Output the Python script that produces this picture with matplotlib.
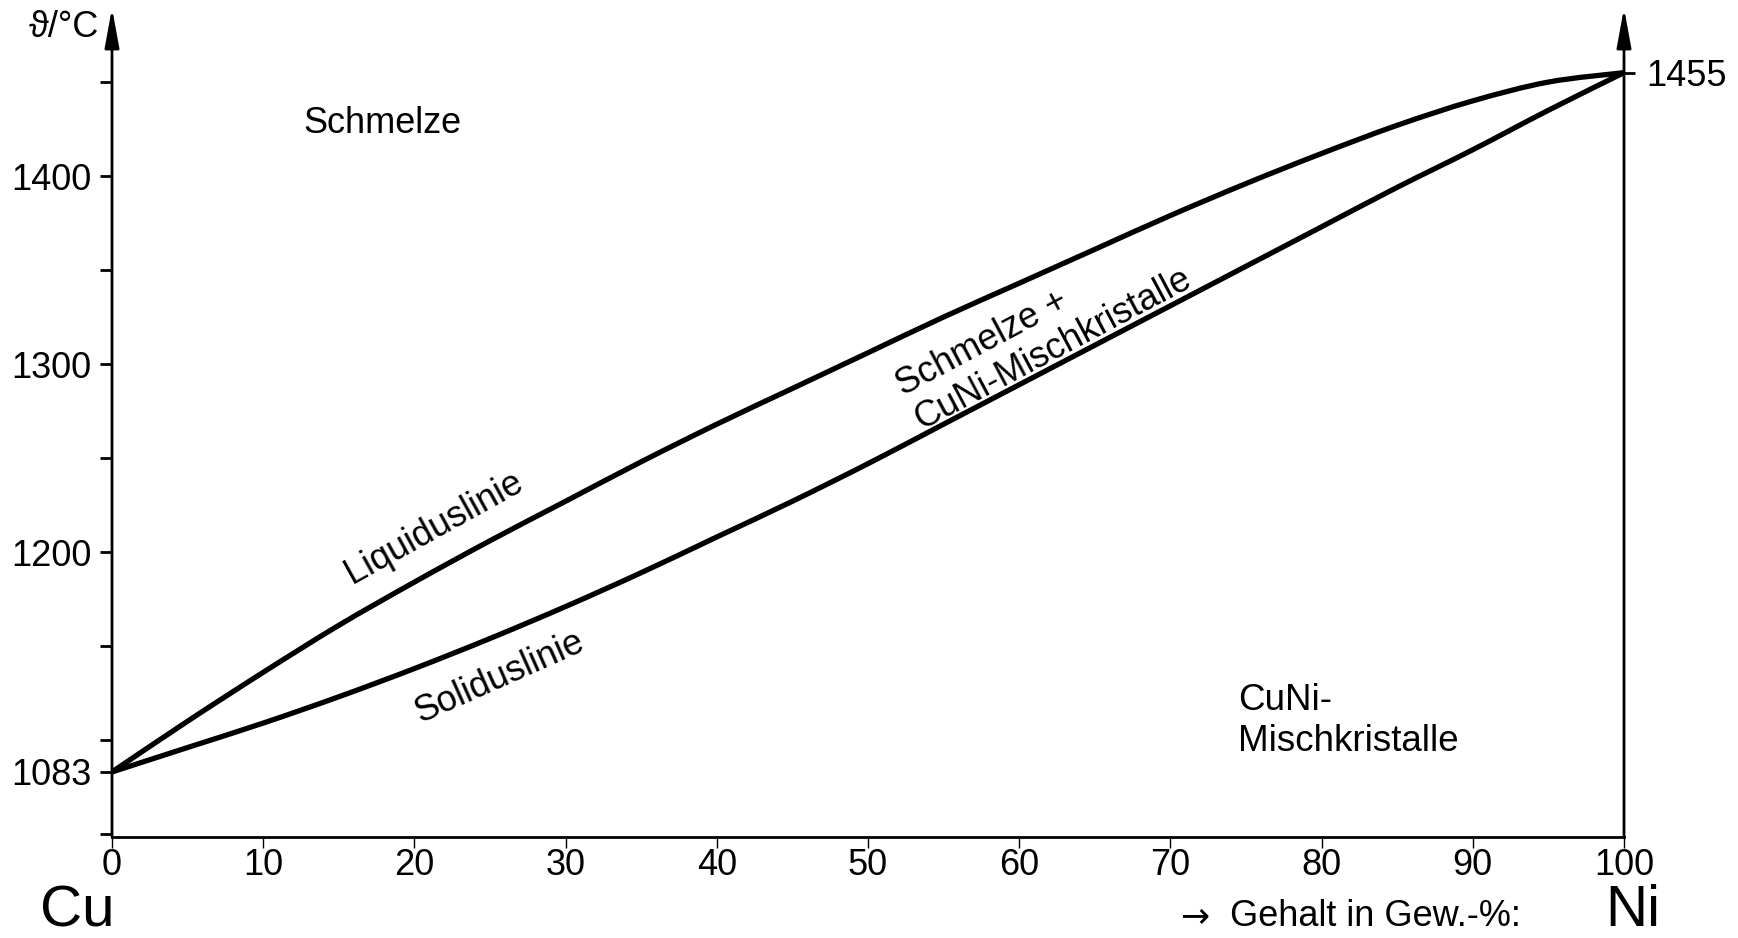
import matplotlib
matplotlib.use("Agg")
import matplotlib.pyplot as plt
from matplotlib.path import Path
from matplotlib.patches import PathPatch
import numpy as np

plt.rcParams['font.family'] = ['Liberation Sans', 'DejaVu Sans']

# Ni content in Gew.-% and temperatures
ni = [0, 5, 10, 15, 20, 25, 30, 35, 40, 45, 50, 55, 60, 65, 70, 75, 80, 85, 90, 95, 100]
liquidus = [1083, 1110, 1136, 1161, 1184, 1206, 1227, 1248, 1268, 1287, 1306,
            1325, 1343, 1361, 1379, 1396, 1412, 1427, 1440, 1450, 1455]
solidus = [1083, 1096, 1109, 1123, 1138, 1154, 1171, 1189, 1208, 1227, 1247,
           1268, 1289, 1310, 1331, 1352, 1373, 1394, 1414, 1435, 1455]

x_ticks = list(range(0, 101, 10))
y_ticks = [1050, 1083, 1100, 1150, 1200, 1250, 1300, 1350, 1400, 1450]
y_labels = ['', '1083', '', '', '1200', '', '1300', '', '1400', '']
t_ni = 1455

ymin, ymax = 1048.4, 1489.4


def smooth_path(xs, ys):
    # draw the line through the points as Catmull-Rom bezier segments
    p = np.column_stack([xs, ys]).astype(float)
    verts = [p[0]]
    codes = [Path.MOVETO]
    n = len(p)
    for i in range(n - 1):
        p0 = p[i - 1] if i > 0 else p[i]
        p1, p2 = p[i], p[i + 1]
        p3 = p[i + 2] if i + 2 < n else p[i + 1]
        c1 = p1 + (p2 - p0) / 6.0
        c2 = p2 - (p3 - p1) / 6.0
        verts += [c1, c2, p2]
        codes += [Path.CURVE4] * 3
    return Path(verts, codes)


fig = plt.figure(figsize=(17.38, 9.38), dpi=100)
ax = fig.add_axes([0.06444, 0.10768, 0.86997, 0.88380])
ax.set_xlim(0, 100)
ax.set_ylim(ymin, ymax)

for s in ['top', 'right', 'left']:
    ax.spines[s].set_visible(False)
ax.spines['bottom'].set_linewidth(2.0)

for ys in (liquidus, solidus):
    ax.add_patch(PathPatch(smooth_path(ni, ys), facecolor='none', edgecolor='black',
                           lw=3.8, capstyle='round', joinstyle='round'))

# vertical axes with arrow heads
for xpos in (0, 100):
    ax.annotate('', xy=(xpos, ymax), xytext=(xpos, ymin),
                arrowprops=dict(arrowstyle='-|>,head_length=1.2,head_width=0.22',
                                mutation_scale=20, lw=2.0, color='black',
                                shrinkA=0, shrinkB=0),
                annotation_clip=False)

ax.set_xticks(x_ticks)
ax.set_xticklabels([str(v) for v in x_ticks])
ax.tick_params(axis='x', direction='out', length=8, width=1.0, pad=0, labelsize=26)

ax.set_yticks(y_ticks)
ax.set_yticklabels(y_labels)
ax.tick_params(axis='y', direction='out', length=8.5, width=2.0, pad=6, labelsize=26)

ax2 = ax.twinx()
ax2.set_ylim(ymin, ymax)
for s in ['top', 'right', 'left', 'bottom']:
    ax2.spines[s].set_visible(False)
ax2.set_yticks([t_ni])
ax2.set_yticklabels([str(t_ni)])
ax2.tick_params(axis='y', direction='out', length=8, width=2.0, pad=8, labelsize=26)

ax.text(-0.86, 1479, 'ϑ/°C', ha='right', va='center', fontsize=26)

ax.text(17.9, 1423, 'Schmelze', ha='center', va='baseline', fontsize=26)
ax.text(74.5, 1110, 'CuNi-\nMischkristalle', ha='left', va='center',
        fontsize=26.5, linespacing=1.2)
ax.text(21.3, 1213, 'Liquiduslinie', ha='center', va='center', rotation=29, fontsize=26)
ax.text(25.6, 1133.5, 'Soliduslinie', ha='center', va='center', rotation=24, fontsize=26)
ax.text(61.6, 1317, 'Schmelze +\nCuNi-Mischkristalle', ha='center', va='center',
        multialignment='left', rotation=28, fontsize=26, linespacing=1.15)

fig.text(0.0443, 0.0125, 'Cu', ha='center', va='baseline', fontsize=42)
fig.text(0.9396, 0.0125, 'Ni', ha='center', va='baseline', fontsize=42)
fig.text(0.679, 0.0125, '→', ha='left', va='baseline', fontsize=25,
         family=['DejaVu Sans'])
fig.text(0.7075, 0.0125, 'Gehalt in Gew.-%:', ha='left', va='baseline', fontsize=26)

fig.savefig('out.png', dpi=100, facecolor='white')
